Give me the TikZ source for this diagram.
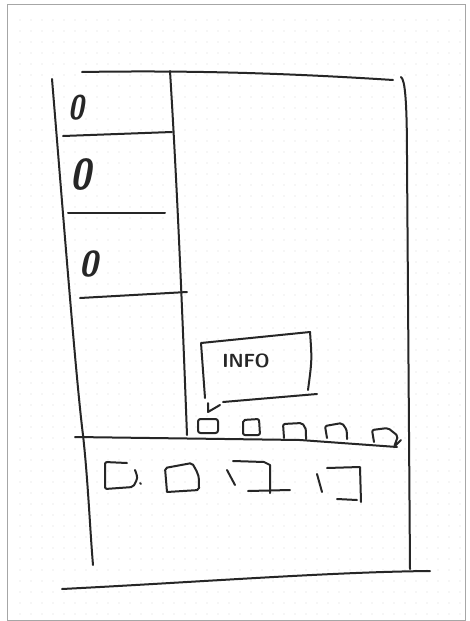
\documentclass[tikz,border=0pt]{standalone}
\begin{document}
\tikzset{
  pen/.style={line width=2pt, line cap=round, line join=round, draw=black!85},
  zero/.style={font=\fontsize{36}{36}\selectfont\sffamily\bfseries\slshape, text=black!85, inner sep=0pt},
  infotext/.style={font=\fontsize{19}{19}\selectfont\sffamily\bfseries, text=black!85, inner sep=0pt},
}
\begin{tikzpicture}[x=1pt,y=-1pt]
\useasboundingbox (0,0) rectangle (469,621);
\fill[white] (0,0) rectangle (469,621);
% faint dot grid
\foreach \i in {20,31,...,460} {
  \foreach \j in {20,31,...,615} {
    \fill[gray!30] (\i,\j) circle (0.6pt);
  }
}
% page border
\draw[gray!70, line width=1pt] (7,4) rectangle (465,620);

% outer frame
\draw[pen] (82,72) .. controls (200,70) and (300,74) .. (393,80);
\draw[pen] (52,79) .. controls (62,200) and (76,380) .. (83,435) .. controls (88,480) and (90,530) .. (93,565);
\draw[pen] (401,77) .. controls (405,80) and (407,100) .. (407,160) -- (410,569);
\draw[pen] (62,589) .. controls (200,582) and (330,572) .. (430,571);

% left column
\draw[pen] (170,71) .. controls (178,200) and (183,330) .. (187,435);
\draw[pen] (63,136) -- (172,132);
\draw[pen] (68,213) -- (165,213);
\draw[pen] (80,298) -- (187,292);
\node[zero] (z1) at (76,108) {\scalebox{0.8}[0.95]{0}};
\node[zero] (z2) at (81,175) {\scalebox{1.05}[1.2]{0}};
\node[zero] (z3) at (89,264) {\scalebox{0.95}[1.0]{0}};

% info bubble
\draw[pen] (205,398) -- (201,343) -- (310,332) .. controls (312,360) .. (308,390);
\draw[pen] (223,402) -- (317,394);
\node[infotext] (info) at (246,361) {INFO};
\draw[pen] (208,403) -- (208,412) -- (220,405);

% timeline line and thumbnails
\draw[pen] (75,437) -- (300,440) -- (397,447);
\draw[pen, rounded corners=2.5pt] (198,419) rectangle (218,433);
\draw[pen, rounded corners=2pt] (243,435) -- (243,420) -- (259,419) -- (260,435) -- cycle;
\draw[pen, rounded corners=2pt] (284,438) -- (283,424) -- (302,423) .. controls (306,428) .. (306,439);
\draw[pen, rounded corners=2pt] (327,438) -- (325,426) -- (342,423) .. controls (347,430) .. (347,439);
\draw[pen, rounded corners=2pt] (374,442) -- (372,430) -- (388,428) -- (398,436) -- (394,447) -- (401,440);

% bottom strip thumbnails
\draw[pen, rounded corners=2pt] (127,463) -- (105,462) -- (105,489) -- (133,487) .. controls (138,478) .. (135,470);
\draw[pen] (140,483) -- (141,484);
\draw[pen, rounded corners=2pt] (167,492) -- (165,468) -- (192,463) .. controls (199,475) .. (199,490) -- (167,492);
\draw[pen] (227,470) -- (235,485);
\draw[pen] (233,461) -- (264,462) -- (270,465) -- (270,493);
\draw[pen] (248,491) -- (290,490);
\draw[pen] (317,474) -- (322,492);
\draw[pen] (327,468) -- (360,467) -- (361,502);
\draw[pen] (337,499) -- (357,500);
\end{tikzpicture}
\end{document}
